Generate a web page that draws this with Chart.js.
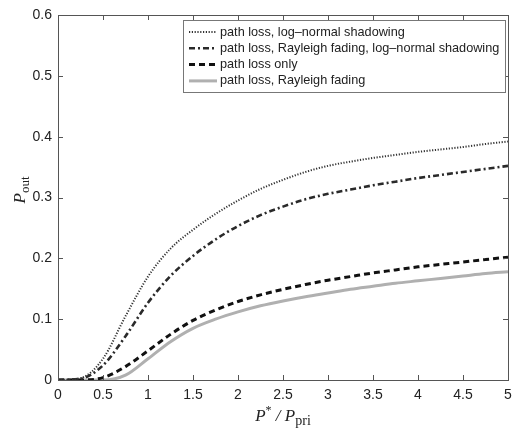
<!DOCTYPE html>
<html>
<head>
<meta charset="utf-8">
<script src="https://cdn.jsdelivr.net/npm/chart.js@4.4.1/dist/chart.umd.min.js"></script>
<style>
  body { margin: 0; background: #fff; }
</style>
</head>
<body>
<canvas id="chart" width="512" height="430"></canvas>
<script>
// values
const ratio = [0, 0.25, 0.5, 0.75, 1, 1.25, 1.5, 1.75, 2, 2.25, 2.5, 2.75, 3, 3.25, 3.5, 3.75, 4, 4.25, 4.5, 4.75, 5];
const lossShadowing = [0, 0.003, 0.035, 0.105, 0.170, 0.216, 0.247, 0.273, 0.295, 0.314, 0.329, 0.342, 0.352, 0.359, 0.365, 0.370, 0.375, 0.379, 0.383, 0.388, 0.392];
const lossFadingShadowing = [0, 0.002, 0.024, 0.072, 0.127, 0.171, 0.204, 0.231, 0.253, 0.271, 0.285, 0.297, 0.306, 0.313, 0.320, 0.326, 0.332, 0.337, 0.342, 0.347, 0.352];
const lossOnly = [0, 0, 0.004, 0.022, 0.048, 0.075, 0.098, 0.115, 0.129, 0.140, 0.149, 0.157, 0.164, 0.170, 0.176, 0.181, 0.186, 0.190, 0.194, 0.198, 0.202];
const lossFading = [0, 0, 0, 0.008, 0.035, 0.063, 0.085, 0.100, 0.112, 0.122, 0.130, 0.137, 0.143, 0.149, 0.154, 0.159, 0.163, 0.167, 0.171, 0.175, 0.178];

const labels = [
  'path loss, log\u2013normal shadowing',
  'path loss, Rayleigh fading, log\u2013normal shadowing',
  'path loss only',
  'path loss, Rayleigh fading'
];

const pts = arr => arr.map((v, i) => ({ x: ratio[i], y: v }));
const font = 'Liberation Sans, Arial, sans-serif';
const fmt = v => String(+Number(v).toFixed(2));

const frame = {
  id: 'frame',
  afterDraw(chart) {
    const { ctx, chartArea: a, scales: { x, y } } = chart;
    ctx.save();
    ctx.strokeStyle = '#555';
    ctx.lineWidth = 1;
    ctx.setLineDash([]);
    ctx.strokeRect(a.left + 0.5, a.top + 0.5, a.right - a.left, a.bottom - a.top);
    ctx.beginPath();
    x.ticks.forEach(t => {
      const p = Math.round(x.getPixelForValue(t.value)) + 0.5;
      ctx.moveTo(p, a.bottom); ctx.lineTo(p, a.bottom - 5);
      ctx.moveTo(p, a.top); ctx.lineTo(p, a.top + 5);
    });
    y.ticks.forEach(t => {
      const p = Math.round(y.getPixelForValue(t.value)) + 0.5;
      ctx.moveTo(a.left, p); ctx.lineTo(a.left + 5, p);
      ctx.moveTo(a.right, p); ctx.lineTo(a.right - 5, p);
    });
    ctx.stroke();

    // legend
    const lx = 183.5, ly = 20.5, lw = 322, lh = 72;
    ctx.fillStyle = '#fff';
    ctx.fillRect(lx, ly, lw, lh);
    ctx.strokeStyle = '#777';
    ctx.strokeRect(lx, ly, lw, lh);
    ctx.font = '12.7px ' + font;
    ctx.textBaseline = 'middle';
    chart.data.datasets.forEach((ds, i) => {
      const ry = 32 + i * 16.3;
      ctx.beginPath();
      ctx.strokeStyle = ds.borderColor;
      ctx.lineWidth = ds.borderWidth;
      ctx.setLineDash(ds.borderDash || []);
      ctx.moveTo(189, ry); ctx.lineTo(217, ry);
      ctx.stroke();
      ctx.fillStyle = '#222';
      ctx.fillText(ds.label, 220, ry);
    });
    ctx.setLineDash([]);

    // axis titles
    ctx.fillStyle = '#222';
    ctx.textBaseline = 'alphabetic';
    const cx = (a.left + a.right) / 2;
    ctx.font = 'italic 17px Liberation Serif, serif';
    const pW = ctx.measureText('P').width;
    ctx.font = '12px Liberation Serif, serif';
    const sW = ctx.measureText('*').width;
    ctx.font = 'italic 17px Liberation Serif, serif';
    const slW = ctx.measureText(' / P').width;
    ctx.font = '14px Liberation Serif, serif';
    const subW = ctx.measureText('pri').width;
    let sx = cx - (pW + sW + slW + subW) / 2;
    ctx.font = 'italic 17px Liberation Serif, serif';
    ctx.fillText('P', sx, 421); sx += pW;
    ctx.font = '12px Liberation Serif, serif';
    ctx.fillText('*', sx, 414); sx += sW;
    ctx.font = 'italic 17px Liberation Serif, serif';
    ctx.fillText(' / P', sx, 421); sx += slW;
    ctx.font = '14px Liberation Serif, serif';
    ctx.fillText('pri', sx, 425);

    ctx.translate(25, 190);
    ctx.rotate(-Math.PI / 2);
    ctx.font = 'italic 17px Liberation Serif, serif';
    const w1 = ctx.measureText('P').width;
    ctx.font = '13px Liberation Serif, serif';
    const w2 = ctx.measureText('out').width;
    const ox = -(w1 + w2) / 2;
    ctx.font = 'italic 17px Liberation Serif, serif';
    ctx.fillText('P', ox, 0);
    ctx.font = '13px Liberation Serif, serif';
    ctx.fillText('out', ox + w1, 4);
    ctx.restore();
  }
};

new Chart(document.getElementById('chart'), {
  type: 'line',
  data: {
    datasets: [
      { label: labels[0], data: pts(lossShadowing), borderColor: '#333', borderWidth: 2, borderDash: [1.2, 1.6] },
      { label: labels[1], data: pts(lossFadingShadowing), borderColor: '#2a2a2a', borderWidth: 2.6, borderDash: [6, 3, 2, 3] },
      { label: labels[2], data: pts(lossOnly), borderColor: '#111', borderWidth: 3, borderDash: [6, 4] },
      { label: labels[3], data: pts(lossFading), borderColor: '#b0b0b0', borderWidth: 3 }
    ].map(d => Object.assign(d, { pointRadius: 0, fill: false, cubicInterpolationMode: 'monotone' }))
  },
  options: {
    responsive: false,
    animation: false,
    layout: { padding: { top: 15, right: 4, left: 0, bottom: 0 } },
    plugins: { legend: { display: false }, tooltip: { enabled: false } },
    scales: {
      x: {
        type: 'linear', min: 0, max: 5,
        afterFit: s => { s.height = 50; s.paddingRight = 4; },
        grid: { display: false, drawTicks: false },
        border: { display: false },
        ticks: { stepSize: 0.5, padding: 7, color: '#222', font: { family: font, size: 14 }, maxRotation: 0, callback: fmt }
      },
      y: {
        min: 0, max: 0.6,
        afterFit: s => { s.width = 58; },
        grid: { display: false, drawTicks: false },
        border: { display: false },
        ticks: { stepSize: 0.1, padding: 6, color: '#222', font: { family: font, size: 14 }, callback: fmt }
      }
    }
  },
  plugins: [frame]
});
</script>
</body>
</html>
